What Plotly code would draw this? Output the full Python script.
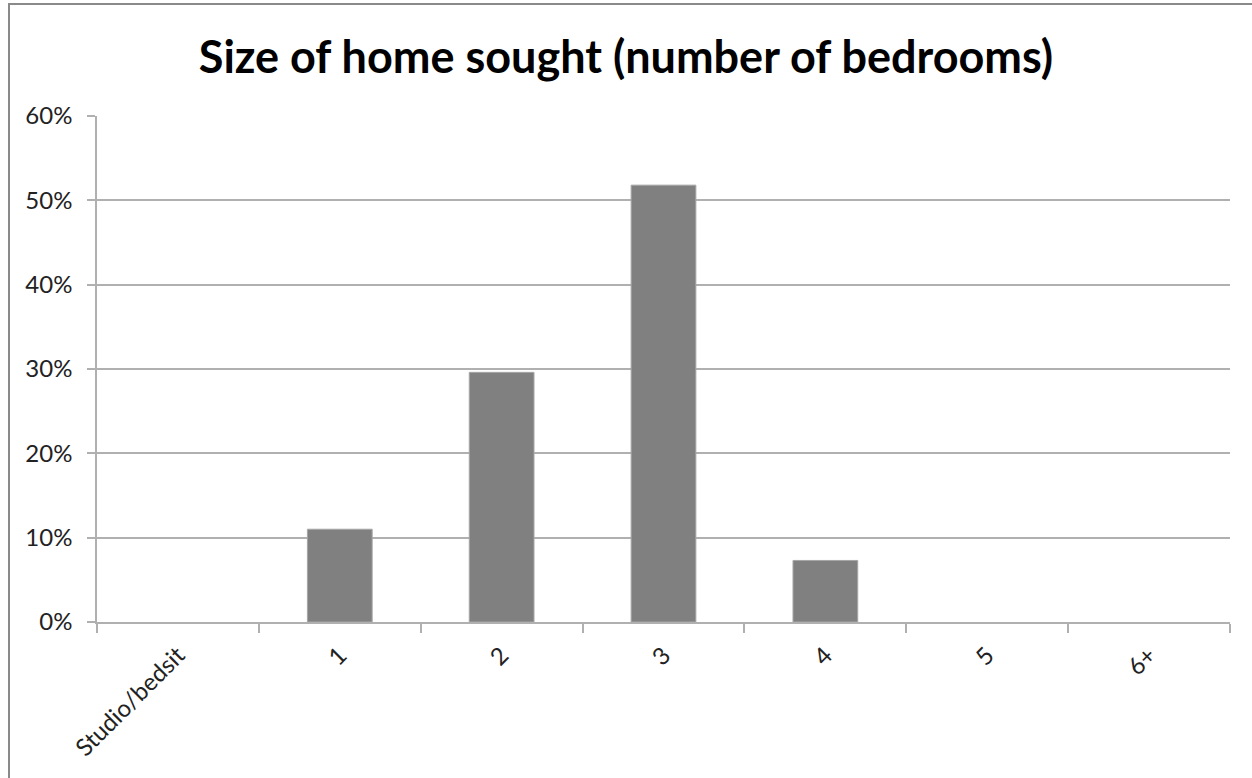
import plotly.graph_objects as go

categories = ["Studio/bedsit", "1", "2", "3", "4", "5", "6+"]
values = [0.0, 0.110, 0.296, 0.518, 0.073, 0.0, 0.0]
y_ticks = [0, 0.1, 0.2, 0.3, 0.4, 0.5, 0.6]
y_tick_labels = ["0%", "10%", "20%", "30%", "40%", "50%", "60%"]
title = "Size of home sought (number of bedrooms)"

W, H = 1252, 778
ml, mr, mt, mb = 97, 22, 116, 156
pw, ph = W - ml - mr, H - mt - mb

fig = go.Figure(go.Bar(
    x=categories, y=values,
    marker=dict(color="#808080",
                line=dict(color="#a6a6a6", width=[1 if v > 0 else 0 for v in values])),
    width=0.4,
))

grid = "#b0b0b0"
fnt = "Lato, Open Sans, sans-serif"
fig.update_layout(
    width=W, height=H,
    margin=dict(l=ml, r=mr, t=mt, b=mb),
    paper_bgcolor="white", plot_bgcolor="white",
    showlegend=False,
    title=dict(text="<b>" + title + "</b>", x=0.5, xanchor="center",
               y=1 - 57 / H, yanchor="middle",
               font=dict(family=fnt, size=45, color="#000000")),
    font=dict(family=fnt, size=24, color="#222222"),
    xaxis=dict(
        type="category", tickangle=-45, showline=True, linecolor=grid, linewidth=1.5,
        ticks="outside", tickson="boundaries", ticklen=9, tickcolor=grid, tickwidth=1.5,
        showgrid=False, tickfont=dict(family=fnt, size=24, color="#222222"),
        ticklabelstandoff=8,
    ),
    yaxis=dict(
        range=[0, 0.6], tickvals=y_ticks, ticktext=y_tick_labels,
        showline=True, linecolor=grid, linewidth=1.5,
        ticks="outside", ticklen=8, tickcolor=grid, tickwidth=1.5,
        showgrid=True, gridcolor=grid, gridwidth=1.5, zeroline=False,
        tickfont=dict(family=fnt, size=24, color="#222222"),
        ticklabelstandoff=10,
    ),
    shapes=[dict(
        type="rect", xref="paper", yref="paper",
        x0=(9 - ml) / pw, x1=1 + (mr + 20) / pw,
        y0=-(mb + 20) / ph, y1=1 + (mt - 4) / ph,
        line=dict(color="#8a8a8a", width=2), fillcolor="rgba(0,0,0,0)", layer="below",
    )],
)

fig.write_html("out.html", config={"displayModeBar": False},
               post_script="document.body.style.margin='0';")
